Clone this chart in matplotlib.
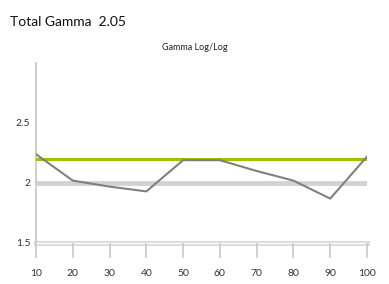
import matplotlib
matplotlib.use("Agg")
import matplotlib.pyplot as plt

x_vals = [10, 20, 30, 40, 50, 60, 70, 80, 90, 100]
gamma = [2.24, 2.02, 1.97, 1.93, 2.19, 2.19, 2.10, 2.02, 1.87, 2.22]
target = [2.2] * len(x_vals)
y_ticks = [1.5, 2, 2.5]
y_labels = ["1.5", "2", "2.5"]

plt.rcParams['font.family'] = ['Lato', 'DejaVu Sans']

fig = plt.figure(figsize=(3.89, 2.84), dpi=100)
ax = fig.add_axes([36/389, 1 - 243/284, 331/389, 180/284])

ax.axhline(2, color='#d2d2d2', lw=3.5, zorder=1)
ax.axhline(1.5, color='#d8d8d8', lw=3.5, zorder=1, clip_on=False)
ax.axhline(1.5, color='white', lw=1, zorder=1.1, clip_on=False)
ax.plot(x_vals, target, color='#9cc200', lw=2.2, zorder=3)
ax.plot(x_vals, gamma, color='#808080', lw=1.5, zorder=4)

ax.set_xlim(10, 100)
ax.set_ylim(1.5, 3.0)
ax.set_xticks(x_vals)
ax.set_xticklabels([str(v) for v in x_vals])
ax.set_yticks(y_ticks)
ax.set_yticklabels(y_labels)

for s in ['top', 'right', 'bottom']:
    ax.spines[s].set_visible(False)
ax.spines['left'].set_color('#d0d0d0')
ax.spines['left'].set_linewidth(1.5)
ax.tick_params(axis='x', length=11, width=1.2, color='#c8c8c8', labelsize=7.5, pad=8, labelcolor='#333333')
ax.tick_params(axis='y', length=0, labelsize=7.5, pad=4, labelcolor='#333333')

fig.text(10/389, 1 - 22/284, "Total Gamma  2.05", fontsize=10, color='#111111', va='center', ha='left')
fig.text(195/389, 1 - 48/284, "Gamma Log/Log", fontsize=6.5, color='#222222', va='center', ha='center')

fig.savefig("out.png", dpi=100)
